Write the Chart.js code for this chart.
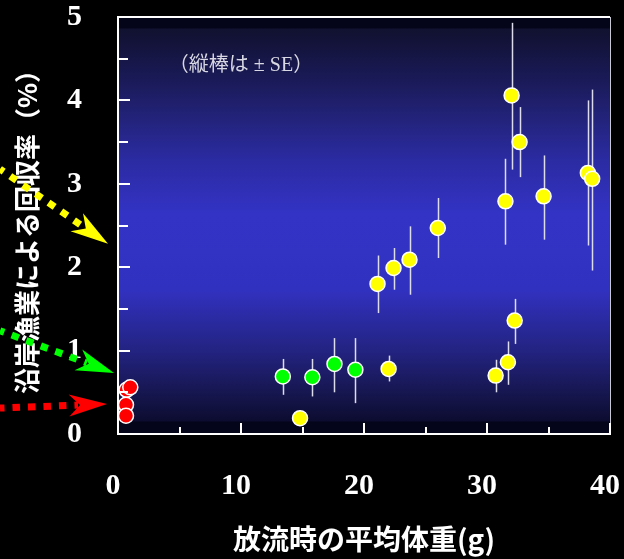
<!DOCTYPE html>
<html>
<head>
<meta charset="utf-8">
<script src="https://cdn.jsdelivr.net/npm/chart.js@4"></script>
<style>
  html, body { margin: 0; padding: 0; background: #000; }
  #wrap { width: 624px; height: 559px; }
</style>
</head>
<body>
<div id="wrap"><canvas id="chart" width="624" height="559"></canvas></div>
<script>
// 放流時の平均体重(g) と 沿岸漁業による回収率(%)
const redX = [0.7, 1.0, 0.65, 0.65];
const redY = [0.53, 0.56, 0.35, 0.22];

const greenX = [13.4, 15.8, 17.6, 19.3];
const greenY = [0.69, 0.68, 0.84, 0.77];
const greenLo = [0.47, 0.45, 0.50, 0.37];
const greenHi = [0.90, 0.90, 1.15, 1.15];

const yellowX = [14.8, 21.1, 22.0, 22.4, 23.7, 26.0, 30.7, 31.5, 31.7, 32.0, 32.25, 32.65, 34.6, 38.2, 38.55];
const yellowY = [0.19, 1.80, 0.78, 1.99, 2.09, 2.47, 0.70, 2.79, 0.86, 4.06, 1.36, 3.50, 2.85, 3.13, 3.06];
const yellowLo = [0.19, 1.45, 0.63, 1.73, 1.67, 2.11, 0.50, 2.27, 0.59, 3.17, 1.08, 3.08, 2.33, 2.26, 1.96];
const yellowHi = [0.19, 2.14, 0.94, 2.23, 2.49, 2.83, 0.89, 3.30, 1.11, 4.93, 1.62, 3.92, 3.34, 4.00, 4.13];

const xTitle = '放流時の平均体重(g)';
const yTitle = '沿岸漁業による回収率（%）';
const note = '（縦棒は ± SE）';

// arrows on the left: which y value they point to
const arrowTargets = [
  { color: '#ffff00', value: 2.28, gap: 10, angle: 34.7 },
  { color: '#00ff00', value: 0.73, gap: 4, angle: 20.4 },
  { color: '#ff0000', value: 0.36, gap: 11, angle: -2.2 }
];

function toPoints(xs, ys) {
  return xs.map((x, i) => ({ x: x, y: ys[i] }));
}

const bgPlugin = {
  id: 'bg',
  beforeDraw(chart) {
    const { ctx, chartArea: a } = chart;
    ctx.save();
    ctx.fillStyle = '#000';
    ctx.fillRect(0, 0, chart.width, chart.height);
    const g = ctx.createLinearGradient(0, a.top, 0, a.bottom);
    g.addColorStop(0, '#05051a');
    g.addColorStop(0.026, '#05051a');
    g.addColorStop(0.029, '#111130');
    g.addColorStop(0.151, '#1a1a58');
    g.addColorStop(0.247, '#23237c');
    g.addColorStop(0.343, '#2b2ba2');
    g.addColorStop(0.475, '#3333c6');
    g.addColorStop(0.655, '#3131c0');
    g.addColorStop(0.799, '#232382');
    g.addColorStop(0.918, '#141448');
    g.addColorStop(0.969, '#0c0c30');
    g.addColorStop(0.971, '#04041a');
    g.addColorStop(1, '#04041a');
    ctx.fillStyle = g;
    ctx.fillRect(a.left, a.top, a.right - a.left, a.bottom - a.top);
    ctx.restore();
  }
};

const errorBarPlugin = {
  id: 'errbars',
  beforeDatasetsDraw(chart) {
    const { ctx, scales: { x, y } } = chart;
    ctx.save();
    ctx.strokeStyle = '#dcdcec';
    ctx.lineWidth = 1.5;
    chart.data.datasets.forEach(ds => {
      if (!ds.lo) return;
      ds.data.forEach((p, i) => {
        if (ds.lo[i] === ds.hi[i]) return;
        const px = Math.round(x.getPixelForValue(p.x)) + 0.5;
        ctx.beginPath();
        ctx.moveTo(px, y.getPixelForValue(ds.hi[i]));
        ctx.lineTo(px, y.getPixelForValue(ds.lo[i]));
        ctx.stroke();
      });
    });
    ctx.restore();
  }
};

function drawArrow(ctx, tipX, tipY, deg, color) {
  const r = deg * Math.PI / 180;
  const ux = Math.cos(r), uy = Math.sin(r);
  const nx = -uy, ny = ux;
  const L = 38, W = 11, notch = 27;
  const startX = 0, startY = tipY - Math.tan(r) * tipX;
  const endX = tipX - ux * (notch + 2), endY = tipY - uy * (notch + 2);
  ctx.save();
  ctx.strokeStyle = color;
  ctx.fillStyle = color;
  ctx.lineWidth = 7;
  ctx.setLineDash([7.5, 8]);
  ctx.lineDashOffset = 3;
  ctx.beginPath();
  ctx.moveTo(startX, startY);
  ctx.lineTo(endX, endY);
  ctx.stroke();
  ctx.setLineDash([]);
  ctx.beginPath();
  ctx.moveTo(tipX, tipY);
  ctx.lineTo(tipX - ux * L + nx * W, tipY - uy * L + ny * W);
  ctx.lineTo(tipX - ux * notch, tipY - uy * notch);
  ctx.lineTo(tipX - ux * L - nx * W, tipY - uy * L - ny * W);
  ctx.closePath();
  ctx.fill();
  ctx.restore();
}

const framePlugin = {
  id: 'frame',
  afterDraw(chart) {
    const { ctx, chartArea: a, scales: { x, y } } = chart;
    ctx.save();
    // top and right frame
    ctx.strokeStyle = '#ffffff';
    ctx.lineWidth = 2;
    ctx.beginPath();
    ctx.moveTo(a.left, a.top);
    ctx.lineTo(a.right, a.top);
    ctx.stroke();
    ctx.strokeStyle = '#c8c8d0';
    ctx.lineWidth = 1;
    ctx.beginPath();
    ctx.moveTo(a.right + 0.5, a.top);
    ctx.lineTo(a.right + 0.5, a.bottom);
    ctx.stroke();
    // inside ticks
    ctx.strokeStyle = '#ffffff';
    ctx.lineWidth = 2;
    y.ticks.forEach(t => {
      const py = Math.round(y.getPixelForValue(t.value));
      const len = Number.isInteger(t.value) ? 12 : 10;
      ctx.beginPath();
      ctx.moveTo(a.left, py);
      ctx.lineTo(a.left + len, py);
      ctx.stroke();
    });
    x.ticks.forEach(t => {
      const px = Math.round(x.getPixelForValue(t.value));
      const len = t.value % 10 === 0 ? 11 : 7;
      ctx.beginPath();
      ctx.moveTo(px, a.bottom);
      ctx.lineTo(px, a.bottom - len);
      ctx.stroke();
    });
    // note
    ctx.fillStyle = '#d8d8e4';
    ctx.font = '20px "Liberation Serif", "Noto Sans CJK JP", serif';
    ctx.textAlign = 'center';
    ctx.textBaseline = 'middle';
    ctx.fillText(note, x.getPixelForValue(10.0), y.getPixelForValue(4.41));
    // arrows
    arrowTargets.forEach(t => {
      drawArrow(ctx, a.left - t.gap, y.getPixelForValue(t.value), t.angle, t.color);
    });
    ctx.restore();
  }
};

const pointStyle = {
  pointRadius: 7.5,
  pointHoverRadius: 7.5,
  pointBorderColor: '#ffffff',
  pointBorderWidth: 1.5,
  showLine: false
};

new Chart(document.getElementById('chart'), {
  type: 'scatter',
  data: {
    datasets: [
      Object.assign({ label: 'red', data: toPoints(redX, redY), pointBackgroundColor: '#ff0000' }, pointStyle),
      Object.assign({ label: 'green', data: toPoints(greenX, greenY), lo: greenLo, hi: greenHi, pointBackgroundColor: '#00ff00' }, pointStyle),
      Object.assign({ label: 'yellow', data: toPoints(yellowX, yellowY), lo: yellowLo, hi: yellowHi, pointBackgroundColor: '#ffff00' }, pointStyle)
    ]
  },
  options: {
    responsive: false,
    animation: false,
    layout: { padding: { top: 17, right: 14, left: 0, bottom: 0 } },
    plugins: {
      legend: { display: false },
      tooltip: { enabled: false }
    },
    scales: {
      x: {
        type: 'linear',
        min: 0,
        max: 40,
        grid: { display: false, drawTicks: false },
        border: { display: true, color: '#ffffff', width: 2 },
        ticks: {
          stepSize: 5,
          color: '#ffffff',
          padding: 34,
          labelOffset: -5,
          maxRotation: 0,
          autoSkip: false,
          font: { family: '"Liberation Serif", serif', size: 30, weight: 'bold' },
          callback: v => (v % 10 === 0 ? v : '')
        },
        title: {
          display: true,
          text: xTitle,
          color: '#ffffff',
          font: { family: '"Noto Sans CJK JP", sans-serif', size: 28, weight: 'bold' },
          padding: { top: 0, bottom: 3 }
        },
        afterFit(scale) {
          scale.height = 125;
          scale.paddingLeft = 0;
          scale.paddingRight = 0;
        }
      },
      y: {
        type: 'linear',
        min: 0,
        max: 5,
        grid: { display: false, drawTicks: false },
        border: { display: true, color: '#ffffff', width: 2 },
        ticks: {
          stepSize: 0.5,
          color: '#ffffff',
          padding: 36,
          autoSkip: false,
          font: { family: '"Liberation Serif", serif', size: 30, weight: 'bold' },
          callback: v => (Number.isInteger(v) ? v : '')
        },
        title: {
          display: true,
          text: yTitle,
          color: '#ffffff',
          font: { family: '"Noto Sans CJK JP", sans-serif', size: 26, weight: 'bold' },
          padding: { top: 12, bottom: 0 }
        },
        afterFit(scale) {
          scale.width = 118;
          scale.paddingTop = 0;
          scale.paddingBottom = 0;
        }
      }
    }
  },
  plugins: [bgPlugin, errorBarPlugin, framePlugin]
});
</script>
</body>
</html>
